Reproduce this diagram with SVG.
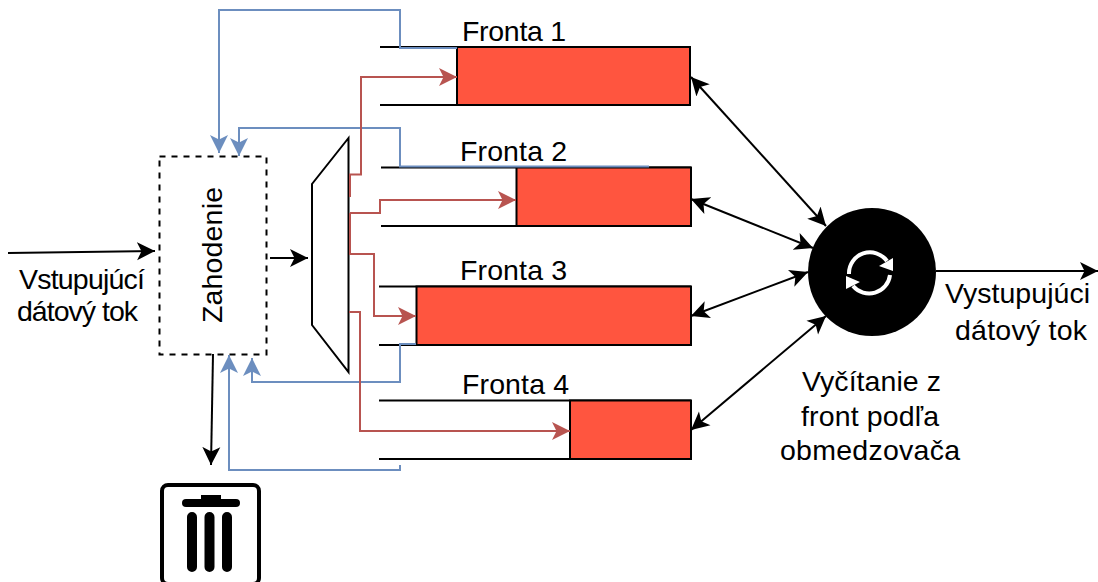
<svg xmlns="http://www.w3.org/2000/svg" width="1098" height="582" viewBox="0 0 1098 582">
<style>
text{font-family:"Liberation Sans",Arial,sans-serif;font-size:28.5px;fill:#000}
.q{fill:#ff553f;stroke:#000;stroke-width:2}
.l{fill:none;stroke:#000;stroke-width:2}
.b{fill:none;stroke:#6c8ebf;stroke-width:2}
.r{fill:none;stroke:#b85450;stroke-width:2}
</style>
<defs>
<marker id="ak" markerUnits="userSpaceOnUse" markerWidth="20" markerHeight="20" refX="18" refY="9" orient="auto-start-reverse" viewBox="0 0 20 18"><path d="M0 0L18 9L0 18L4.500 9Z" fill="#000"/></marker>
<marker id="ab" markerUnits="userSpaceOnUse" markerWidth="20" markerHeight="20" refX="18" refY="9" orient="auto" viewBox="0 0 20 18"><path d="M0 0L18 9L0 18L4.500 9Z" fill="#6c8ebf"/></marker>
<marker id="ar" markerUnits="userSpaceOnUse" markerWidth="20" markerHeight="20" refX="18" refY="9" orient="auto" viewBox="0 0 20 18"><path d="M0 0L18 9L0 18L4.500 9Z" fill="#b85450"/></marker>
</defs>
<g id="queue1"><path class="l" d="M380 47H690M380 105H690"/><rect class="q" x="457" y="47" width="233" height="58"/><text x="462" y="41" textLength="104">Fronta 1</text></g>
<g id="queue2"><path class="l" d="M381 167.500H691M381 226H691"/><rect class="q" x="516.500" y="167.500" width="174.500" height="58.500"/><text x="460" y="161" textLength="107">Fronta 2</text></g>
<g id="queue3"><path class="l" d="M379 286.500H691M379 345H691"/><rect class="q" x="416.500" y="286.500" width="274.500" height="58.500"/><text x="460" y="280" textLength="107">Fronta 3</text></g>
<g id="queue4"><path class="l" d="M379 400.500H691M379 459H691"/><rect class="q" x="570" y="400.500" width="121" height="58.500"/><text x="462" y="394" textLength="107">Fronta 4</text></g>
<g id="drop"><rect x="159.500" y="156.500" width="107" height="198" fill="#fff" stroke="#000" stroke-width="2" stroke-dasharray="6 6"/><text transform="translate(222 323) rotate(-90)" textLength="136">Zahodenie</text></g>
<g id="mux"><path d="M348.500 138L312 184V325L348.500 372Z" fill="#fff" stroke="#000" stroke-width="2"/></g>
<g id="scheduler"><circle cx="872" cy="272" r="64" fill="#000"/>
<path d="M849 274A21 21 0 0 1 887 261M890 275A21 21 0 0 1 853 286" fill="none" stroke="#fff" stroke-width="4"/>
<path d="M893 258V271L879 266Z M846 276V289L860 282Z" fill="#fff"/></g>
<g id="trash"><rect x="162" y="485" width="97" height="99" rx="6" fill="#fff" stroke="#000" stroke-width="4"/>
<path d="M186 503H236" stroke="#000" stroke-width="8" stroke-linecap="round"/><rect x="201" y="495" width="20" height="8"/>
<path d="M192 517V567M209.500 517V567M227 517V567" stroke="#000" stroke-width="10" stroke-linecap="round"/></g>
<g id="connectors">
<path class="b" marker-end="url(#ab)" d="M457 48H400V10H219V153"/>
<path class="b" marker-end="url(#ab)" d="M649 166.500H400V128H239V156"/>
<path class="b" marker-end="url(#ab)" d="M416 344H400V382H252V358"/>
<path class="b" marker-end="url(#ab)" d="M400 465V470H229V355"/>
<path class="r" marker-end="url(#ar)" d="M350 197V174.500H361V77H457"/>
<path class="r" marker-end="url(#ar)" d="M350 213H380V200H516"/>
<path class="r" marker-end="url(#ar)" d="M350 213V254H374V316H416"/>
<path class="r" marker-end="url(#ar)" d="M349 312H360V431H570"/>
<path class="l" marker-end="url(#ak)" d="M8 253L155 251"/>
<path class="l" marker-end="url(#ak)" d="M270 258H308"/>
<path class="l" marker-end="url(#ak)" d="M213 354L211 465"/>
<path class="l" marker-end="url(#ak)" d="M936 271H1098"/>
<path class="l" marker-start="url(#ak)" marker-end="url(#ak)" d="M691 77L826 226"/>
<path class="l" marker-start="url(#ak)" marker-end="url(#ak)" d="M691 199L813 248"/>
<path class="l" marker-start="url(#ak)" marker-end="url(#ak)" d="M691 316L808 272"/>
<path class="l" marker-start="url(#ak)" marker-end="url(#ak)" d="M691 430L826 316"/>
</g>
<g id="labels">
<text x="19" y="289" textLength="126">Vstupujúcí</text><text x="17" y="321" textLength="121">dátový tok</text>
<text x="945" y="303" textLength="145">Vystupujúci</text><text x="955" y="340" textLength="132">dátový tok</text>
<text x="802" y="391" textLength="139">Vyčítanie z</text><text x="801" y="426" textLength="138">front podľa</text><text x="780" y="460" textLength="180">obmedzovača</text>
</g>
</svg>
